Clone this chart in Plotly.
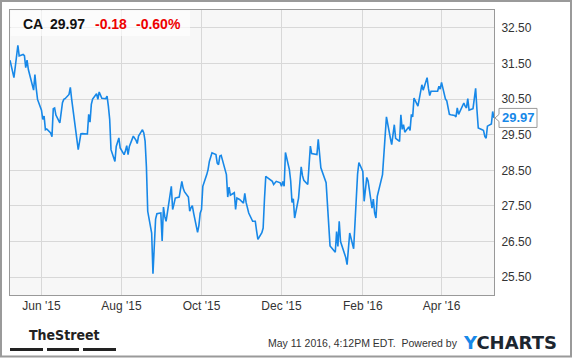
import plotly.graph_objects as go

ticker = "CA"
last_price = "29.97"
change = "-0.18"
change_pct = "-0.60%"

dates = [
    "2015-05-08", "2015-05-11", "2015-05-12", "2015-05-13", "2015-05-14", "2015-05-15",
    "2015-05-18", "2015-05-19", "2015-05-20", "2015-05-21", "2015-05-22",
    "2015-05-26", "2015-05-27", "2015-05-28", "2015-05-29",
    "2015-06-01", "2015-06-02", "2015-06-03", "2015-06-04", "2015-06-05",
    "2015-06-08", "2015-06-09", "2015-06-10", "2015-06-11", "2015-06-12",
    "2015-06-15", "2015-06-16", "2015-06-17", "2015-06-18", "2015-06-19",
    "2015-06-22", "2015-06-23", "2015-06-24", "2015-06-25", "2015-06-26",
    "2015-06-29", "2015-06-30", "2015-07-01", "2015-07-02",
    "2015-07-06", "2015-07-07", "2015-07-08", "2015-07-09", "2015-07-10",
    "2015-07-13", "2015-07-14", "2015-07-15", "2015-07-16", "2015-07-17",
    "2015-07-20", "2015-07-21", "2015-07-22", "2015-07-23", "2015-07-24",
    "2015-07-27", "2015-07-28", "2015-07-29", "2015-07-30", "2015-07-31",
    "2015-08-03", "2015-08-04", "2015-08-05", "2015-08-06", "2015-08-07",
    "2015-08-10", "2015-08-11", "2015-08-12", "2015-08-13", "2015-08-14",
    "2015-08-17", "2015-08-18", "2015-08-19", "2015-08-20", "2015-08-21",
    "2015-08-24", "2015-08-25", "2015-08-26", "2015-08-27", "2015-08-28",
    "2015-08-31", "2015-09-01", "2015-09-02", "2015-09-03", "2015-09-04",
    "2015-09-08", "2015-09-09", "2015-09-10", "2015-09-11",
    "2015-09-14", "2015-09-15", "2015-09-16", "2015-09-17", "2015-09-18",
    "2015-09-21", "2015-09-22", "2015-09-23", "2015-09-24", "2015-09-25",
    "2015-09-28", "2015-09-29", "2015-09-30", "2015-10-01", "2015-10-02",
    "2015-10-05", "2015-10-06", "2015-10-07", "2015-10-08", "2015-10-09",
    "2015-10-12", "2015-10-13", "2015-10-14", "2015-10-15", "2015-10-16",
    "2015-10-19", "2015-10-20", "2015-10-21", "2015-10-22", "2015-10-23",
    "2015-10-26", "2015-10-27", "2015-10-28", "2015-10-29", "2015-10-30",
    "2015-11-02", "2015-11-03", "2015-11-04", "2015-11-05", "2015-11-06",
    "2015-11-09", "2015-11-10", "2015-11-11", "2015-11-12", "2015-11-13",
    "2015-11-16", "2015-11-17", "2015-11-18", "2015-11-19", "2015-11-20",
    "2015-11-23", "2015-11-24", "2015-11-25", "2015-11-27",
    "2015-11-30", "2015-12-01", "2015-12-02", "2015-12-03", "2015-12-04",
    "2015-12-07", "2015-12-08", "2015-12-09", "2015-12-10", "2015-12-11",
    "2015-12-14", "2015-12-15", "2015-12-16", "2015-12-17", "2015-12-18",
    "2015-12-21", "2015-12-22", "2015-12-23", "2015-12-24",
    "2015-12-28", "2015-12-29", "2015-12-30", "2015-12-31",
    "2016-01-04", "2016-01-05", "2016-01-06", "2016-01-07", "2016-01-08",
    "2016-01-11", "2016-01-12", "2016-01-13", "2016-01-14", "2016-01-15",
    "2016-01-19", "2016-01-20", "2016-01-21", "2016-01-22",
    "2016-01-25", "2016-01-26", "2016-01-27", "2016-01-28", "2016-01-29",
    "2016-02-01", "2016-02-02", "2016-02-03", "2016-02-04", "2016-02-05",
    "2016-02-08", "2016-02-09", "2016-02-10", "2016-02-11", "2016-02-12",
    "2016-02-16", "2016-02-17", "2016-02-18", "2016-02-19",
    "2016-02-22", "2016-02-23", "2016-02-24", "2016-02-25", "2016-02-26",
    "2016-02-29", "2016-03-01", "2016-03-02", "2016-03-03", "2016-03-04",
    "2016-03-07", "2016-03-08", "2016-03-09", "2016-03-10", "2016-03-11",
    "2016-03-14", "2016-03-15", "2016-03-16", "2016-03-17", "2016-03-18",
    "2016-03-21", "2016-03-22", "2016-03-23", "2016-03-24",
    "2016-03-28", "2016-03-29", "2016-03-30", "2016-03-31", "2016-04-01",
    "2016-04-04", "2016-04-05", "2016-04-06", "2016-04-07", "2016-04-08",
    "2016-04-11", "2016-04-12", "2016-04-13", "2016-04-14", "2016-04-15",
    "2016-04-18", "2016-04-19", "2016-04-20", "2016-04-21", "2016-04-22",
    "2016-04-25", "2016-04-26", "2016-04-27", "2016-04-28", "2016-04-29",
    "2016-05-02", "2016-05-03", "2016-05-04", "2016-05-05", "2016-05-06",
    "2016-05-09", "2016-05-10", "2016-05-11",
]

prices = [
    31.59, 31.10, 31.40, 31.70, 32.01, 31.71,
    31.75, 31.72, 31.38, 31.59, 31.33,
    30.75, 31.19, 30.80, 30.49,
    30.19, 29.93, 30.02, 29.64, 29.66,
    29.55, 29.44, 30.23, 30.25, 30.05,
    29.83, 30.21, 30.40, 30.49, 30.51,
    30.63, 30.83, 30.50, 30.20, 29.90,
    29.08, 29.30, 29.52, 29.53,
    29.52, 30.07, 29.85, 30.35, 30.50,
    30.65, 30.49, 30.70, 30.60, 30.52,
    30.51, 30.58, 30.30, 29.93, 29.08,
    28.75, 29.17, 29.30, 29.41, 29.13,
    28.94, 29.05, 29.19, 28.94, 29.17,
    29.46, 29.41, 29.35, 29.25, 29.46,
    29.64, 29.55, 29.32, 28.60, 27.35,
    26.74, 25.60, 26.40, 27.13, 27.28,
    27.30, 26.52, 27.47, 27.20, 27.07,
    28.05, 27.40, 27.55, 27.72,
    27.75, 28.00, 28.19, 28.00, 27.90,
    27.75, 27.35, 27.45, 27.51, 27.30,
    26.76, 26.95, 27.30, 27.40, 28.05,
    28.38, 28.52, 28.75, 28.85, 28.99,
    28.94, 28.70, 28.66, 28.90, 28.92,
    28.55, 28.38, 27.75, 28.03, 27.80,
    27.87, 27.40, 27.72, 27.70, 27.68,
    27.58, 27.85, 27.60, 27.45, 27.30,
    27.07, 27.07, 27.07, 26.80, 26.56,
    26.75, 26.88, 27.69, 28.33, 28.30,
    28.22, 28.19, 28.10, 28.19,
    28.15, 28.05, 28.19, 28.05, 29.00,
    28.52, 28.20, 27.60, 27.70, 27.16,
    27.72, 28.20, 28.60, 28.35, 28.22,
    28.10, 28.60, 29.18, 28.97,
    28.94, 29.37, 28.90, 28.57,
    28.15, 27.60, 27.00, 26.38, 26.33,
    26.20, 26.78, 26.36, 27.07, 26.50,
    26.05, 25.85, 26.30, 26.74,
    26.30, 27.00, 27.86, 28.40, 28.72,
    28.47, 27.63, 28.00, 28.30, 28.20,
    27.44, 27.69, 27.30, 27.16, 27.77,
    28.38, 29.00, 29.60, 30.00,
    29.40, 29.22, 29.50, 29.78, 29.40,
    29.31, 30.06, 29.65, 29.78, 29.57,
    29.72, 29.62, 30.07, 30.00, 30.53,
    30.30, 30.50, 30.75, 30.90, 30.75,
    31.10, 30.80, 30.60, 30.72,
    30.72, 30.72, 30.86, 30.78, 30.97,
    30.50, 30.45, 30.20, 30.07, 30.06,
    30.04, 30.00, 30.25, 30.07, 30.15,
    30.39, 30.30, 30.25, 30.51, 30.19,
    30.23, 30.50, 30.80, 30.20, 29.69,
    29.64, 29.62, 29.45, 29.40, 29.74,
    29.80, 30.15, 29.97,
]

x_tick_vals = ["2015-06-01", "2015-08-01", "2015-10-01", "2015-12-01", "2016-02-01", "2016-04-01"]
x_tick_text = ["Jun '15", "Aug '15", "Oct '15", "Dec '15", "Feb '16", "Apr '16"]
y_tick_vals = [25.5, 26.5, 27.5, 28.5, 29.5, 30.5, 31.5, 32.5]
y_tick_text = ["25.50", "26.50", "27.50", "28.50", "29.50", "30.50", "31.50", "32.50"]
footer_text = "May 11 2016, 4:12PM EDT.  Powered by"

BLUE = "#1788e8"
FONT = "Liberation Sans, Arial, sans-serif"

fig = go.Figure()
fig.add_trace(go.Scatter(
    x=dates, y=prices, mode="lines",
    line=dict(color=BLUE, width=1.6),
    hoverinfo="skip", showlegend=False,
))

W, H = 575, 358
ML, MR, MT, MB = 10, 81, 10, 63
PW, PH = W - ML - MR, H - MT - MB


def px(x):
    return (x - ML) / PW


def py(y):
    return (H - MB - y) / PH


shapes = []
# outer frame
shapes.append(dict(type="rect", xref="paper", yref="paper",
                   x0=px(1), x1=px(571), y0=py(1), y1=py(356.5),
                   line=dict(color="#9a9a9a", width=2), fillcolor="rgba(0,0,0,0)", layer="below"))
# header translucent box
shapes.append(dict(type="rect", xref="paper", yref="paper",
                   x0=px(10.5), x1=px(190), y0=py(10.5), y1=py(36),
                   line=dict(width=0), fillcolor="rgba(255,255,255,0.65)", layer="above"))
# TheStreet bars
for a, b in [(10, 43), (47, 79), (83, 116)]:
    shapes.append(dict(type="rect", xref="paper", yref="paper",
                       x0=px(a), x1=px(b), y0=py(348), y1=py(351),
                       line=dict(width=0), fillcolor="#222222"))

# price tag with notch, anchored at the last price
lp = prices[-1]
hh = 9.5 / 35.55
nh = 3.5 / 35.55
xl, xr, xt = px(499), px(537), px(495)
path = (f"M {xl},{lp + hh} L {xr},{lp + hh} L {xr},{lp - hh} L {xl},{lp - hh} "
        f"L {xl},{lp - nh} L {xt},{lp} L {xl},{lp + nh} Z")
shapes.append(dict(type="path", xref="paper", yref="y", path=path,
                   line=dict(color="#9a9a9a", width=1), fillcolor="white"))

annotations = []
hy = py(24)
for txt, xpos, col in [(ticker, 21, "#111111"), (last_price, 48, "#111111"),
                       (change, 93, "#ee0000"), (change_pct, 134, "#ee0000")]:
    annotations.append(dict(text=f"<b>{txt}</b>", xref="paper", yref="paper",
                            x=px(xpos), y=hy, xanchor="left", yanchor="middle",
                            showarrow=False, font=dict(family=FONT, size=14, color=col)))

annotations.append(dict(text=f"<b>{last_price}</b>", xref="paper", yref="y",
                        x=px(518), y=lp, xanchor="center", yanchor="middle",
                        showarrow=False, font=dict(family=FONT, size=13, color=BLUE)))

annotations.append(dict(text="<b>TheStreet</b>", xref="paper", yref="paper",
                        x=px(64), y=py(335), xanchor="center", yanchor="middle",
                        showarrow=False,
                        font=dict(family="DejaVu Sans Condensed, Liberation Sans Narrow, sans-serif",
                                  size=14, color="#222222")))

annotations.append(dict(text=footer_text, xref="paper", yref="paper",
                        x=px(460), y=py(343), xanchor="right", yanchor="middle",
                        showarrow=False, font=dict(family=FONT, size=10.5, color="#333333")))

annotations.append(dict(text=f"<b><span style='color:{BLUE}'>Y</span>CHARTS</b>", xref="paper", yref="paper",
                        x=px(461), y=py(342), xanchor="left", yanchor="middle",
                        showarrow=False, font=dict(family="DejaVu Sans, sans-serif", size=18, color="#1c2630")))

fig.update_layout(
    width=W, height=H,
    margin=dict(l=ML, r=MR, t=MT, b=MB, pad=0),
    paper_bgcolor="white",
    plot_bgcolor="#f7f7f7",
    font=dict(family=FONT, size=12, color="#333333"),
    shapes=shapes,
    annotations=annotations,
    xaxis=dict(
        type="date",
        range=["2015-05-08", "2016-05-11"],
        tickmode="array", tickvals=x_tick_vals, ticktext=x_tick_text,
        showgrid=True, gridcolor="#d8d8d8", gridwidth=1,
        showline=True, linecolor="#999999", linewidth=1, mirror=True,
        ticks="", zeroline=False, tickfont=dict(size=12, color="#333333"),
        fixedrange=True,
    ),
    yaxis=dict(
        side="right",
        range=[25.0, 33.0],
        tickmode="array", tickvals=y_tick_vals, ticktext=y_tick_text,
        showgrid=True, gridcolor="#d8d8d8", gridwidth=1,
        showline=True, linecolor="#999999", linewidth=1, mirror=True,
        ticks="", zeroline=False, tickfont=dict(size=12, color="#333333"),
        ticklabelstandoff=4,
        fixedrange=True,
    ),
)

fig.write_html("out.html")
